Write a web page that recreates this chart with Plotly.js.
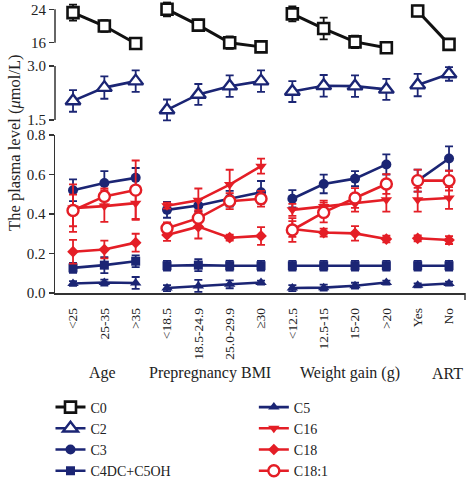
<!DOCTYPE html>
<html>
<head>
<meta charset="utf-8">
<script src="https://cdn.plot.ly/plotly-3.0.1.min.js"></script>
<style>
html,body{margin:0;padding:0;background:#fff;}
#chart{width:466px;height:478px;}
</style>
</head>
<body>
<div id="chart"></div>
<script>
// ---- data ----
const categories = ['<25','25-35','>35','<18.5','18.5-24.9','25.0-29.9','≥30','<12.5','12.5-15','15-20','>20','Yes','No'];
const groupNames = ['Age','Prepregnancy BMI','Weight gain (g)','ART'];
const groupSizes = [3, 4, 4, 2];

const C0      = [23.2, 20.0, 15.8, 24.0, 20.2, 16.0, 15.0, 22.9, 19.4, 16.2, 14.8, 23.6, 15.6];
const C0_err  = [1.9, 1.4, 1.0, 1.7, 1.3, 1.5, 0.6, 1.8, 2.6, 1.5, 0.6, 1.3, 0.8];
const C2      = [2.03, 2.40, 2.58, 1.78, 2.21, 2.44, 2.58, 2.29, 2.45, 2.44, 2.35, 2.47, 2.78];
const C2_err  = [0.30, 0.31, 0.30, 0.29, 0.29, 0.30, 0.30, 0.29, 0.30, 0.30, 0.29, 0.31, 0.19];
const C3      = [0.520, 0.557, 0.583, 0.421, 0.443, 0.477, 0.510, 0.477, 0.552, 0.579, 0.651, 0.569, 0.681];
const C3_err  = [0.055, 0.060, 0.050, 0.040, 0.030, 0.040, 0.057, 0.044, 0.047, 0.038, 0.051, 0.056, 0.061];
const C4DC    = [0.127, 0.141, 0.161, 0.138, 0.141, 0.138, 0.138, 0.138, 0.138, 0.138, 0.138, 0.138, 0.138];
const C4DC_err= [0.025, 0.040, 0.030, 0.025, 0.030, 0.025, 0.025, 0.025, 0.025, 0.025, 0.025, 0.025, 0.025];
const C5      = [0.048, 0.053, 0.051, 0.025, 0.036, 0.044, 0.053, 0.025, 0.027, 0.037, 0.053, 0.039, 0.048];
const C5_err  = [0.012, 0.015, 0.030, 0.015, 0.030, 0.020, 0.010, 0.015, 0.015, 0.015, 0.010, 0.010, 0.010];
const C16     = [0.430, 0.440, 0.455, 0.442, 0.469, 0.549, 0.642, 0.421, 0.438, 0.452, 0.472, 0.472, 0.481];
const C16_err = [0.120, 0.080, 0.080, 0.015, 0.060, 0.075, 0.038, 0.030, 0.030, 0.040, 0.060, 0.060, 0.055];
const C18     = [0.209, 0.220, 0.255, 0.294, 0.336, 0.280, 0.289, 0.324, 0.306, 0.302, 0.273, 0.277, 0.268];
const C18_err = [0.060, 0.045, 0.045, 0.030, 0.060, 0.015, 0.045, 0.040, 0.020, 0.037, 0.017, 0.015, 0.020];
const C18_1   = [0.418, 0.489, 0.521, 0.328, 0.379, 0.465, 0.477, 0.319, 0.408, 0.481, 0.552, 0.569, 0.569];
const C18_1_err=[0.080, 0.040, 0.150, 0.030, 0.040, 0.040, 0.040, 0.060, 0.050, 0.050, 0.050, 0.056, 0.050];

// ---- styles ----
const NAVY = '#1b2574', RED = '#e41e26', BLACK = '#111111';
const FONT = 'Liberation Serif, Times New Roman, serif';

const series = [
  {name:'C0', y:C0, e:C0_err, axis:'y3', color:BLACK, sym:'square', size:11, fill:'#fff', lw:3, mlw:2.6, leg:'legend'},
  {name:'C2', y:C2, e:C2_err, axis:'y2', color:NAVY, sym:'triangle-up', size:13, fill:'#fff', lw:2.6, mlw:2.4, leg:'legend'},
  {name:'C3', y:C3, e:C3_err, axis:'y', color:NAVY, sym:'circle', size:10, fill:NAVY, lw:2.6, mlw:0, leg:'legend'},
  {name:'C4DC+C5OH', y:C4DC, e:C4DC_err, axis:'y', color:NAVY, sym:'square', size:9, fill:NAVY, lw:2.6, mlw:0, leg:'legend'},
  {name:'C5', y:C5, e:C5_err, axis:'y', color:NAVY, sym:'triangle-up', size:10, fill:NAVY, lw:2.6, mlw:0, leg:'legend2'},
  {name:'C16', y:C16, e:C16_err, axis:'y', color:RED, sym:'triangle-down', size:10, fill:RED, lw:2.6, mlw:0, leg:'legend2'},
  {name:'C18', y:C18, e:C18_err, axis:'y', color:RED, sym:'diamond', size:9, fill:RED, lw:2.6, mlw:0, leg:'legend2'},
  {name:'C18:1', y:C18_1, e:C18_1_err, axis:'y', color:RED, sym:'circle', size:11, fill:'#fff', lw:2.6, mlw:2.4, leg:'legend2'}
];

const idx = categories.map((c,i)=>i);
const traces = [];
series.forEach(s=>{
  let start = 0;
  groupSizes.forEach((n,g)=>{
    const xs = idx.slice(start, start+n);
    traces.push({
      type:'scatter', mode:'lines+markers', name:s.name,
      x: xs, y: s.y.slice(start, start+n), yaxis: s.axis, xaxis:'x',
      line:{color:s.color, width:s.lw},
      marker:{symbol:s.sym, size:s.size, color:s.fill, line:{color:s.color, width:s.mlw}},
      error_y:{type:'data', array:s.e.slice(start, start+n), visible:true, color:s.color, thickness:1.8, width:4},
      showlegend: g===0, legend: s.leg, cliponaxis:false
    });
    start += n;
  });
});

const axisCommon = {showgrid:false, zeroline:false, ticks:'outside', ticklen:5, tickwidth:1.5,
  tickcolor:'#333', linecolor:'#333', linewidth:1.5, automargin:false,
  tickfont:{family:FONT, size:15, color:'#222'}};

const legendCommon = {yref:'container', xref:'paper', y:0.181, xanchor:'left', yanchor:'top', orientation:'v',
  font:{family:FONT, size:14, color:'#222'}, bgcolor:'rgba(0,0,0,0)', tracegroupgap:0, itemwidth:30};

const layout = {
  width:466, height:478,
  margin:{l:55, r:1, t:1, b:185},
  paper_bgcolor:'#fff', plot_bgcolor:'#fff',
  font:{family:FONT, color:'#222'},
  xaxis: {showgrid:false, zeroline:false, showline:true, linecolor:'#333', linewidth:1.5, automargin:false,
    range:[-0.575, 12.51], tickvals:idx, ticktext:categories, tickangle:-90, ticks:'',
    ticklabelstandoff:8, tickfont:{family:FONT, size:13.5, color:'#222'}, anchor:'y'},
  yaxis: Object.assign({}, axisCommon, {domain:[0,0.5411], range:[0,0.8], showline:true,
    tickvals:[0,0.2,0.4,0.6,0.8], ticktext:['0.0','0.2','0.4','0.6','0.8'], anchor:'x'}),
  yaxis2: Object.assign({}, axisCommon, {domain:[0.5801,0.7897], range:[1.4,3.1], showline:false,
    tickvals:[1.5,3.0], ticktext:['1.5','3.0'], anchor:'x'}),
  yaxis3: Object.assign({}, axisCommon, {domain:[0.8286,0.9987], range:[14,25.9], showline:false,
    tickvals:[16,24], ticktext:['16','24'], anchor:'x'}),
  shapes:[
    {type:'line', xref:'paper', yref:'y2', x0:0, x1:0, y0:1.5, y1:3.0, line:{color:'#333', width:1.5}},
    {type:'line', xref:'paper', yref:'y3', x0:0, x1:0, y0:16, y1:24, line:{color:'#333', width:1.5}},
    {type:'line', xref:'paper', yref:'paper', x0:1, x1:1, y0:0, y1:-0.024, line:{color:'#333', width:1.5}}
  ],
  annotations: [
    {text:'The plasma level (<i>μ</i>mol/L)', textangle:-90, xref:'paper', yref:'paper',
     x:-0.0976, y:0.514, xanchor:'center', yanchor:'middle', showarrow:false,
     font:{family:FONT, size:16.5, color:'#222'}}
  ].concat(groupNames.map((g,i)=>({
     text:g, xref:'x', yref:'paper', x:[0.93,4.37,8.84,11.94][i], y:-0.274,
     xanchor:'center', yanchor:'middle', showarrow:false, font:{family:FONT, size:16, color:'#222'}}))),
  legend: Object.assign({}, legendCommon, {x:-0.011}),
  legend2: Object.assign({}, legendCommon, {x:0.485})
};

Plotly.newPlot('chart', traces, layout, {staticPlot:true, displayModeBar:false});
</script>
</body>
</html>
